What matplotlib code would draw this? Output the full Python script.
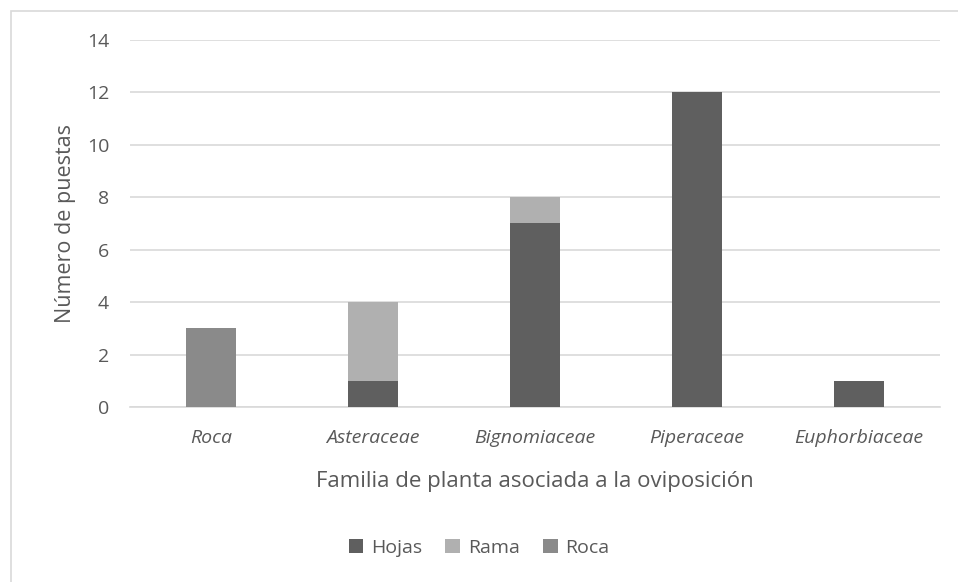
import matplotlib.pyplot as plt
import numpy as np
from matplotlib.patches import Rectangle

families = ['Roca', 'Asteraceae', 'Bignomiaceae', 'Piperaceae', 'Euphorbiaceae']
hojas = [0, 1, 7, 12, 1]
rama = [0, 3, 1, 0, 0]
roca = [3, 0, 0, 0, 0]
yticks = [0, 2, 4, 6, 8, 10, 12, 14]

text_color = '#595959'
colors = {'Hojas': '#5f5f5f', 'Rama': '#b0b0b0', 'Roca': '#8a8a8a'}

plt.rcParams['font.family'] = ['Open Sans', 'DejaVu Sans']

fig = plt.figure(figsize=(9.58, 5.82), dpi=100)
ax = fig.add_axes([0.1357, 0.3007, 0.8455, 0.6306])

# light frame around the chart area
fig.patches.append(Rectangle((11 / 958, -0.1), 1.1, 1 - 11 / 582 + 0.1,
                             transform=fig.transFigure, fill=False,
                             edgecolor='#d9d9d9', linewidth=1.2))

x = np.arange(len(families))
w = 0.31
bottom = np.zeros(len(families))
for name, vals in [('Hojas', hojas), ('Rama', rama), ('Roca', roca)]:
    ax.bar(x, vals, w, bottom=bottom, color=colors[name], label=name, zorder=3)
    bottom += np.array(vals)

ax.set_xlim(-0.5, len(families) - 0.5)
ax.set_ylim(0, 14)
ax.set_yticks(yticks)
ax.set_yticklabels([str(t) for t in yticks], fontsize=14, color=text_color)
ax.set_xticks(x)
ax.set_xticklabels(families, fontsize=14, color=text_color, style='italic')
ax.tick_params(length=0, pad=15, axis='y')
ax.tick_params(length=0, pad=16, axis='x')
ax.yaxis.grid(True, color='#d9d9d9', linewidth=1.2, zorder=0)
for s in ['top', 'right', 'left']:
    ax.spines[s].set_visible(False)
ax.spines['bottom'].set_color('#d9d9d9')
ax.spines['bottom'].set_linewidth(1.2)

ax.set_ylabel('Número de puestas', fontsize=15.5, color=text_color, labelpad=8)
ax.set_xlabel('Familia de planta asociada a la oviposición', fontsize=16,
              color=text_color, labelpad=17)

leg = fig.legend(loc='center', bbox_to_anchor=(0.5, 1 - 548 / 582), ncol=3,
                 frameon=False, fontsize=14, handlelength=0.75, handleheight=0.75,
                 columnspacing=1.2, handletextpad=0.4)
for t in leg.get_texts():
    t.set_color(text_color)

fig.savefig('out.png', dpi=100)
